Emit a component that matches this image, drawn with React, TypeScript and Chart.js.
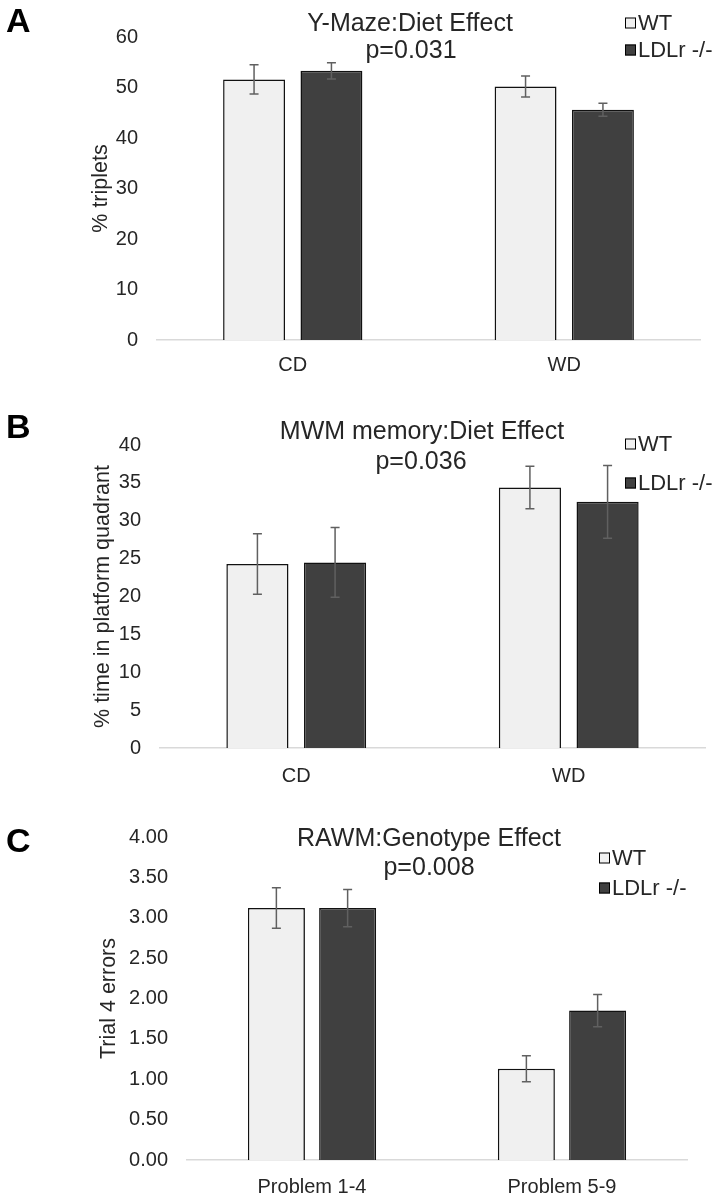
import React, { useEffect, useRef } from 'react';
import { Chart, registerables } from 'chart.js';

Chart.register(...registerables);

// ---- data ----
const seriesNames = ['WT', 'LDLr -/-'];
const seriesColors = ['#f0f0f0', '#404040'];

const aTitle = 'Y-Maze:Diet Effect';
const aP = 'p=0.031';
const aYTitle = '% triplets';
const aCategories = ['CD', 'WD'];
const aWT = [51.6, 50.2];
const aWTErr = [2.9, 2.1];
const aKO = [53.3, 45.6];
const aKOErr = [1.6, 1.3];
const aMax = 60;
const aStep = 10;

const bTitle = 'MWM memory:Diet Effect';
const bP = 'p=0.036';
const bYTitle = '% time in platform quadrant';
const bCategories = ['CD', 'WD'];
const bWT = [24.3, 34.4];
const bWTErr = [4.0, 2.8];
const bKO = [24.5, 32.5];
const bKOErr = [4.6, 4.8];
const bMax = 40;
const bStep = 5;

const cTitle = 'RAWM:Genotype Effect';
const cP = 'p=0.008';
const cYTitle = 'Trial 4 errors';
const cCategories = ['Problem 1-4', 'Problem 5-9'];
const cWT = [3.12, 1.13];
const cWTErr = [0.25, 0.16];
const cKO = [3.12, 1.85];
const cKOErr = [0.23, 0.2];
const cMax = 4;
const cStep = 0.5;

const FONT = 'Liberation Sans, Arial, sans-serif';
const TEXT = '#262626';

type PanelCfg = {
  letter: string; title: string; pText: string; yTitle: string;
  labels: string[]; wt: number[]; wtErr: number[]; ko: number[]; koErr: number[];
  max: number; step: number; decimals: number;
  top: number; height: number; left: number; padRight: number; padTop: number; padBottom: number;
  yTitlePad: number; xTickPad: number;
  titleX: number; titleY: number; pX: number; pY: number;
  legX: number; legY1: number; legY2: number; letterY: number;
};

const panels: PanelCfg[] = [
  {
    letter: 'A', title: aTitle, pText: aP, yTitle: aYTitle, labels: aCategories,
    wt: aWT, wtErr: aWTErr, ko: aKO, koErr: aKOErr, max: aMax, step: aStep, decimals: 0,
    top: 0, height: 395, left: 157, padRight: 23, padTop: 37, padBottom: 15,
    yTitlePad: 88, xTickPad: 13,
    titleX: 410, titleY: 24, pX: 411, pY: 51, legX: 625, legY1: 23, legY2: 50, letterY: 32,
  },
  {
    letter: 'B', title: bTitle, pText: bP, yTitle: bYTitle, labels: bCategories,
    wt: bWT, wtErr: bWTErr, ko: bKO, koErr: bKOErr, max: bMax, step: bStep, decimals: 0,
    top: 400, height: 395, left: 160, padRight: 18, padTop: 45, padBottom: 7,
    yTitlePad: 90, xTickPad: 16,
    titleX: 422, titleY: 432, pX: 421, pY: 462, legX: 625, legY1: 444, legY2: 483, letterY: 438,
  },
  {
    letter: 'C', title: cTitle, pText: cP, yTitle: cYTitle, labels: cCategories,
    wt: cWT, wtErr: cWTErr, ko: cKO, koErr: cKOErr, max: cMax, step: cStep, decimals: 2,
    top: 800, height: 400, left: 187, padRight: 36, padTop: 37, padBottom: 0,
    yTitlePad: 96, xTickPad: 15,
    titleX: 429, titleY: 839, pX: 429, pY: 868, legX: 599, legY1: 858, legY2: 888, letterY: 852,
  },
];

function overlayPlugin(p: PanelCfg) {
  return {
    id: 'overlay' + p.letter,
    afterDatasetsDraw(chart: any) {
      const { ctx } = chart;
      const y = chart.scales.y;
      const vals = [p.wt, p.ko];
      const errs = [p.wtErr, p.koErr];
      for (let i = 0; i < 2; i++) {
        const meta = chart.getDatasetMeta(i);
        meta.data.forEach((bar: any, j: number) => {
          const v = vals[i][j];
          const e = errs[i][j];
          const yt = y.getPixelForValue(v + e);
          const yb = y.getPixelForValue(v - e);
          ctx.save();
          ctx.strokeStyle = '#606060';
          ctx.lineWidth = 1.5;
          ctx.beginPath();
          ctx.moveTo(bar.x, yt);
          ctx.lineTo(bar.x, yb);
          ctx.moveTo(bar.x - 4.5, yt);
          ctx.lineTo(bar.x + 4.5, yt);
          ctx.moveTo(bar.x - 4.5, yb);
          ctx.lineTo(bar.x + 4.5, yb);
          ctx.stroke();
          ctx.restore();
        });
      }
    },
    afterDraw(chart: any) {
      const { ctx } = chart;
      const off = p.top;
      ctx.save();
      ctx.fillStyle = TEXT;
      ctx.textBaseline = 'middle';
      ctx.textAlign = 'center';
      ctx.font = `25px ${FONT}`;
      ctx.fillText(p.title, p.titleX, p.titleY - off);
      ctx.fillText(p.pText, p.pX, p.pY - off);
      // legend
      ctx.textAlign = 'left';
      ctx.font = `22px ${FONT}`;
      const ys = [p.legY1, p.legY2];
      for (let i = 0; i < 2; i++) {
        const cy = ys[i] - off;
        ctx.fillStyle = seriesColors[i];
        ctx.fillRect(p.legX, cy - 5.5, 11, 11);
        ctx.strokeStyle = '#000';
        ctx.lineWidth = 1;
        ctx.strokeRect(p.legX + 0.5, cy - 5, 10, 10);
        ctx.fillStyle = TEXT;
        ctx.fillText(seriesNames[i], p.legX + 13, cy + 1);
      }
      // panel letter
      ctx.fillStyle = '#000';
      ctx.textBaseline = 'alphabetic';
      ctx.font = `bold 34px ${FONT}`;
      ctx.fillText(p.letter, 6, p.letterY - off);
      ctx.restore();
    },
  };
}

function Panel({ p }: { p: PanelCfg }) {
  const ref = useRef<HTMLCanvasElement | null>(null);
  useEffect(() => {
    if (!ref.current) return;
    const tickFont = { family: FONT, size: 20 };
    const chart = new Chart(ref.current, {
      type: 'bar',
      data: {
        labels: p.labels,
        datasets: [
          { label: seriesNames[0], data: p.wt, backgroundColor: seriesColors[0], borderColor: '#111', borderWidth: 1.5 },
          { label: seriesNames[1], data: p.ko, backgroundColor: seriesColors[1], borderColor: '#111', borderWidth: 1.5 },
        ],
      },
      options: {
        animation: false,
        responsive: false,
        maintainAspectRatio: false,
        devicePixelRatio: 1,
        layout: { padding: { left: 0, right: p.padRight, top: p.padTop, bottom: p.padBottom } },
        datasets: { bar: { categoryPercentage: 0.57, barPercentage: 0.8 } },
        plugins: { legend: { display: false }, title: { display: false }, tooltip: { enabled: false } },
        scales: {
          x: {
            grid: { display: false, drawTicks: false },
            border: { display: true, color: '#d9d9d9', width: 1.5 },
            ticks: { font: tickFont, color: TEXT, padding: p.xTickPad, maxRotation: 0 },
            afterFit: (s: any) => { s.height = 40; },
          },
          y: {
            min: 0,
            max: p.max,
            grid: { display: false, drawTicks: false },
            border: { display: false },
            ticks: {
              stepSize: p.step,
              font: tickFont,
              color: TEXT,
              padding: 19,
              callback: (v: any) => Number(v).toFixed(p.decimals),
            },
            title: {
              display: true,
              text: p.yTitle,
              font: { family: FONT, size: 21.5 },
              color: TEXT,
              padding: { top: p.yTitlePad, bottom: 0 },
            },
            afterFit: (s: any) => { s.width = p.left; },
          },
        },
      } as any,
      plugins: [overlayPlugin(p)],
    });
    return () => chart.destroy();
  }, [p]);
  return (
    <canvas
      ref={ref}
      width={723}
      height={p.height}
      style={{ position: 'absolute', left: 0, top: p.top, width: 723, height: p.height }}
    />
  );
}

export default function App() {
  return (
    <div style={{ position: 'absolute', left: 0, top: 0, width: 723, height: 1200, background: '#fff' }}>
      {panels.map((p) => (
        <Panel key={p.letter} p={p} />
      ))}
    </div>
  );
}
